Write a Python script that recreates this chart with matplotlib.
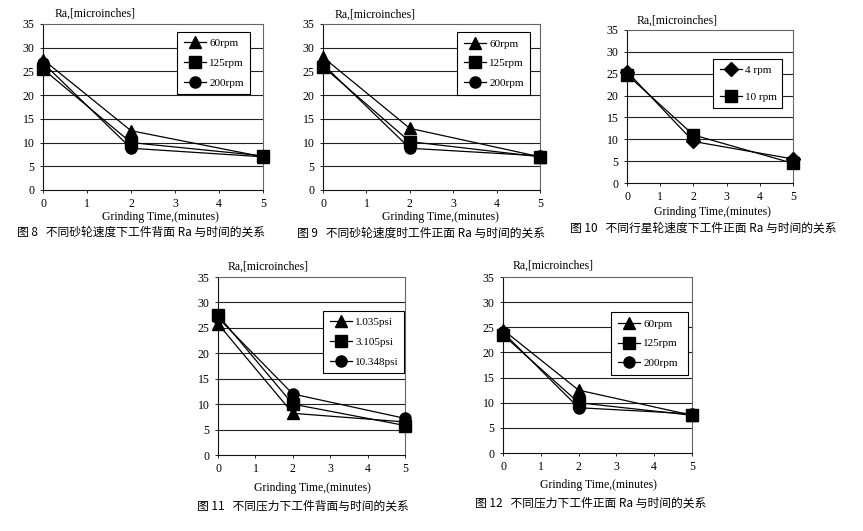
import matplotlib
matplotlib.use("Agg")
import matplotlib.pyplot as plt

W, H = 863, 531

time_min = [0, 2, 5]

# Fig 8
fig8_labels = ["60rpm", "125rpm", "200rpm"]
fig8_60 = [27.5, 12.5, 7.0]
fig8_125 = [25.5, 10.0, 7.2]
fig8_200 = [26.8, 8.8, 7.0]
# Fig 9
fig9_labels = ["60rpm", "125rpm", "200rpm"]
fig9_60 = [28.0, 13.0, 7.0]
fig9_125 = [26.0, 10.2, 7.0]
fig9_200 = [26.5, 8.8, 7.2]
# Fig 10
fig10_labels = ["4 rpm", "10 rpm"]
fig10_4 = [25.5, 9.5, 5.5]
fig10_10 = [24.8, 11.0, 4.5]
# Fig 11
fig11_labels = ["1.035psi", "3.105psi", "10.348psi"]
fig11_a = [25.8, 8.2, 6.5]
fig11_b = [27.5, 10.0, 5.8]
fig11_c = [27.0, 12.0, 7.2]
# Fig 12
fig12_labels = ["60rpm", "125rpm", "200rpm"]
fig12_60 = [24.5, 12.5, 7.5]
fig12_125 = [23.5, 10.0, 7.5]
fig12_200 = [24.0, 9.0, 7.8]

captions = [
    "图 8   不同砂轮速度下工件背面 Ra 与时间的关系",
    "图 9   不同砂轮速度时工件正面 Ra 与时间的关系",
    "图 10   不同行星轮速度下工件正面 Ra 与时间的关系",
    "图 11   不同压力下工件背面与时间的关系",
    "图 12   不同压力下工件正面 Ra 与时间的关系",
]
ylabel = "Ra,[microinches]"
xlabel = "Grinding Time,(minutes)"
yticks = [0, 5, 10, 15, 20, 25, 30, 35]
xticks = [0, 1, 2, 3, 4, 5]

serif = ["Liberation Serif", "DejaVu Serif"]
cjk = ["Noto Sans CJK SC", "DejaVu Sans"]

fig = plt.figure(figsize=(W / 100, H / 100), dpi=100)
fig.patch.set_facecolor("white")


def fx(px):
    return px / W


def fy(py):
    return 1 - py / H


def panel(box, series, labels, markers, leg, ylab_pos, xlab_pos, cap_pos, caption):
    l, t, r, b = box
    ax = fig.add_axes([fx(l), fy(b), (r - l) / W, (b - t) / H])
    ax.set_xlim(0, 5)
    ax.set_ylim(0, 35)
    ax.set_yticks(yticks)
    ax.set_xticks(xticks)
    ax.set_yticklabels([str(v) for v in yticks], fontfamily=serif, fontsize=8.5)
    ax.set_xticklabels([str(v) for v in xticks], fontfamily=serif, fontsize=8.5)
    ax.tick_params(length=2, width=0.6, pad=4)
    for v in yticks[1:-1]:
        ax.axhline(v, color="#222222", lw=0.8, zorder=1)
    for s in ax.spines.values():
        s.set_color("#666666")
        s.set_linewidth(0.8)
    ax.spines["left"].set_color("#111111")
    ax.spines["bottom"].set_color("#111111")
    handles = []
    for ys, lab, m in zip(series, labels, markers):
        ms = 8 if m != "D" else 7
        h, = ax.plot(time_min, ys, color="black", lw=0.9, marker=m, ms=ms,
                     markerfacecolor="black", markeredgecolor="black",
                     clip_on=False, zorder=3, label=lab)
        handles.append(h)
    ll, lt, lr, lb = leg
    n = len(labels)
    lg = fig.legend(handles=handles, labels=labels, loc="center",
                    bbox_to_anchor=(fx(ll), fy(lb), (lr - ll) / W, (lb - lt) / H),
                    bbox_transform=fig.transFigure, mode="expand",
                    borderaxespad=0, fancybox=False, framealpha=1,
                    edgecolor="black", prop={"family": serif, "size": 8},
                    handlelength=2.0, handletextpad=0.3,
                    labelspacing=0.9 if n == 3 else 1.5,
                    borderpad=0.6)
    lg.get_frame().set_linewidth(0.8)
    fig.text(fx(ylab_pos[0]), fy(ylab_pos[1]), ylabel, fontfamily=serif,
             fontsize=8.5, ha="left", va="center")
    fig.text(fx(xlab_pos[0]), fy(xlab_pos[1]), xlabel, fontfamily=serif,
             fontsize=8.5, ha="center", va="center")
    fig.text(fx(cap_pos[0]), fy(cap_pos[1]), caption, fontfamily=cjk,
             fontsize=8.5, ha="left", va="center", fontweight="medium")
    return ax


panel((43, 24, 263, 190), [fig8_60, fig8_125, fig8_200], fig8_labels,
      ["^", "s", "o"], (177, 27, 250, 99), (55, 14), (160, 217), (17, 232), captions[0])
panel((323, 24, 540, 190), [fig9_60, fig9_125, fig9_200], fig9_labels,
      ["^", "s", "o"], (457, 29, 530, 98), (335, 15), (440, 217), (297, 233), captions[1])
panel((627, 30, 793, 183), [fig10_4, fig10_10], fig10_labels,
      ["D", "s"], (713, 54, 782, 113), (637, 21), (712, 212), (570, 228), captions[2])
panel((218, 277, 405, 455), [fig11_a, fig11_b, fig11_c], fig11_labels,
      ["^", "s", "o"], (323, 307, 404, 377), (228, 267), (312, 488), (197, 506), captions[3])
panel((503, 277, 692, 453), [fig12_60, fig12_125, fig12_200], fig12_labels,
      ["^", "s", "o"], (611, 308, 688, 379), (513, 266), (598, 485), (475, 503), captions[4])

fig.savefig("out.png", dpi=100, facecolor="white")
